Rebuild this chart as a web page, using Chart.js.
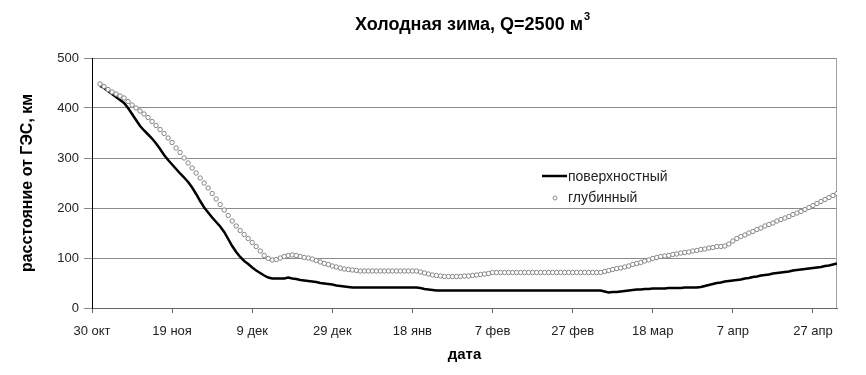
<!DOCTYPE html>
<html>
<head>
<meta charset="utf-8">
<script src="https://cdn.jsdelivr.net/npm/chart.js@4.4.1/dist/chart.umd.min.js"></script>
<style>
  html, body { margin: 0; padding: 0; background: #fff; }
</style>
</head>
<body>
<canvas id="chart" width="866" height="375"></canvas>
<script>
// Tick labels every 20 days, starting at 30 Oct (day 0)
const tickLabels = [
  '30 окт', '19 ноя', '9 дек', '29 дек', '18 янв',
  '7 фев', '27 фев', '18 мар', '7 апр', '27 апр'
];

// first data point is day 2 (1 Nov), one value per day up to day 186
const firstDay = 2;

// поверхностный, km from the dam
const surface = [
  444, 440, 434, 428, 422, 416, 410, 400, 388, 376,
  364, 355, 347, 339, 329, 318, 306, 296, 287, 278,
  269, 261, 252, 241, 228, 214, 201, 191, 181, 172,
  163, 152, 138, 124, 112, 102, 94, 88, 81, 75,
  70, 65, 61, 59, 59, 59, 59, 61, 59, 58,
  56, 55, 54, 53, 52, 50, 49, 48, 47, 45,
  44, 43, 42, 41, 41, 41, 41, 41, 41, 41,
  41, 41, 41, 41, 41, 41, 41, 41, 41, 41,
  40, 38, 37, 36, 35, 35, 35, 35, 35, 35,
  35, 35, 35, 35, 35, 35, 35, 35, 35, 35,
  35, 35, 35, 35, 35, 35, 35, 35, 35, 35,
  35, 35, 35, 35, 35, 35, 35, 35, 35, 35,
  35, 35, 35, 35, 35, 35, 33, 31, 32, 32,
  33, 34, 35, 36, 37, 37, 38, 38, 39, 39,
  39, 39, 40, 40, 40, 40, 41, 41, 41, 41,
  42, 44, 46, 48, 50, 51, 53, 54, 55, 56,
  57, 59, 60, 62, 63, 65, 66, 67, 69, 70,
  71, 72, 73, 75, 76, 77, 78, 79, 80, 81,
  82, 84, 85, 87, 89
];

// глубинный
const deep = [
  448, 443, 437, 432, 428, 424, 420, 413, 406, 400,
  394, 388, 381, 373, 365, 357, 349, 340, 331, 320,
  311, 300, 290, 280, 270, 260, 250, 240, 229, 218,
  207, 196, 185, 174, 164, 155, 147, 139, 131, 123,
  114, 105, 99, 96, 97, 100, 103, 105, 106, 105,
  103, 101, 100, 98, 95, 92, 89, 87, 84, 82,
  80, 78, 77, 76, 75, 74, 74, 74, 74, 74,
  74, 74, 74, 74, 74, 74, 74, 74, 74, 74,
  72, 70, 68, 66, 65, 64, 63, 63, 63, 63,
  63, 64, 64, 65, 66, 67, 68, 69, 71, 71,
  71, 71, 71, 71, 71, 71, 71, 71, 71, 71,
  71, 71, 71, 71, 71, 71, 71, 71, 71, 71,
  71, 71, 71, 71, 71, 71, 73, 75, 77, 79,
  80, 82, 84, 87, 89, 91, 94, 96, 99, 101,
  103, 104, 105, 107, 108, 110, 111, 112, 114, 115,
  117, 118, 120, 121, 123, 123, 124, 128, 134, 139,
  143, 146, 150, 153, 157, 160, 164, 167, 170, 174,
  177, 180, 183, 187, 190, 193, 197, 201, 205, 209,
  213, 217, 221, 225, 229
];

const FONT = 'Liberation Sans, Arial, sans-serif';
const toPoints = arr => arr.map((v, i) => ({x: firstDay + i, y: v}));

// title with superscript, centred over the plot like Excel does
const chartTitle = {
  id: 'chartTitle',
  afterDraw(chart) {
    const {ctx} = chart;
    const main = 'Холодная зима, Q=2500 м';
    ctx.save();
    ctx.fillStyle = '#000';
    ctx.textBaseline = 'middle';
    ctx.font = 'bold 18px ' + FONT;
    const w1 = ctx.measureText(main).width;
    ctx.font = 'bold 11px ' + FONT;
    const w2 = ctx.measureText('3').width;
    const x0 = 472 - (w1 + w2) / 2;
    ctx.font = 'bold 18px ' + FONT;
    ctx.textAlign = 'left';
    ctx.fillText(main, x0, 25);
    ctx.font = 'bold 11px ' + FONT;
    ctx.fillText('3', x0 + w1 + 1, 17);
    ctx.restore();
  }
};

// plot area right border
const plotBorder = {
  id: 'plotBorder',
  beforeDatasetsDraw(chart) {
    const {ctx, chartArea} = chart;
    ctx.save();
    ctx.strokeStyle = '#a0a0a0';
    ctx.lineWidth = 1;
    ctx.beginPath();
    ctx.moveTo(chartArea.right - 0.5, chartArea.top);
    ctx.lineTo(chartArea.right - 0.5, chartArea.bottom);
    ctx.stroke();
    ctx.restore();
  }
};

// legend sits inside the plot
const innerLegend = {
  id: 'innerLegend',
  afterDraw(chart) {
    const {ctx} = chart;
    ctx.save();
    ctx.font = '14px ' + FONT;
    ctx.fillStyle = '#222';
    ctx.textBaseline = 'middle';
    ctx.textAlign = 'left';
    ctx.strokeStyle = '#000';
    ctx.lineWidth = 2.5;
    ctx.beginPath();
    ctx.moveTo(542, 176);
    ctx.lineTo(567, 176);
    ctx.stroke();
    ctx.fillText('поверхностный', 568, 177);
    ctx.lineWidth = 1;
    ctx.strokeStyle = '#8c8c8c';
    ctx.fillStyle = '#fff';
    ctx.beginPath();
    ctx.arc(555, 198, 2, 0, Math.PI * 2);
    ctx.fill();
    ctx.stroke();
    ctx.fillStyle = '#222';
    ctx.fillText('глубинный', 568, 198);
    ctx.restore();
  }
};

const ctx = document.getElementById('chart').getContext('2d');
new Chart(ctx, {
  type: 'line',
  data: {
    datasets: [
      {
        label: 'поверхностный',
        data: toPoints(surface),
        borderColor: '#000',
        borderWidth: 2.5,
        pointRadius: 0,
        tension: 0,
        order: 2
      },
      {
        label: 'глубинный',
        data: toPoints(deep),
        showLine: false,
        pointRadius: 2.2,
        pointBorderWidth: 1,
        pointBorderColor: '#858585',
        pointBackgroundColor: '#fff',
        order: 1
      }
    ]
  },
  options: {
    responsive: false,
    animation: false,
    layout: {padding: {top: 58, right: 29, bottom: 0, left: 0}},
    plugins: {
      legend: {display: false},
      title: {display: false},
      tooltip: {enabled: false}
    },
    scales: {
      x: {
        type: 'linear',
        min: 0,
        max: 186,
        afterFit: s => { s.height = 67; },
        afterBuildTicks: s => {
          s.ticks = tickLabels.map((t, i) => ({value: i * 20}));
        },
        ticks: {
          autoSkip: false,
          maxRotation: 0,
          padding: 11,
          color: '#222',
          font: {family: FONT, size: 13},
          callback: v => tickLabels[v / 20]
        },
        grid: {drawOnChartArea: false, tickLength: 5, color: '#666'},
        border: {color: '#666'},
        title: {
          display: true,
          text: 'дата',
          color: '#000',
          font: {family: FONT, size: 15, weight: 'bold'},
          padding: {top: 0, bottom: 11}
        }
      },
      y: {
        min: 0,
        max: 500,
        afterFit: s => { s.width = 92; },
        ticks: {
          stepSize: 100,
          padding: 5,
          color: '#222',
          font: {family: FONT, size: 13}
        },
        grid: {color: '#8a8a8a', tickLength: 8},
        border: {color: '#000'},
        title: {
          display: true,
          text: 'расстояние от ГЭС, км',
          color: '#000',
          font: {family: FONT, size: 16, weight: 'bold'},
          padding: {top: 18, bottom: 0}
        }
      }
    }
  },
  plugins: [plotBorder, chartTitle, innerLegend]
});
</script>
</body>
</html>
